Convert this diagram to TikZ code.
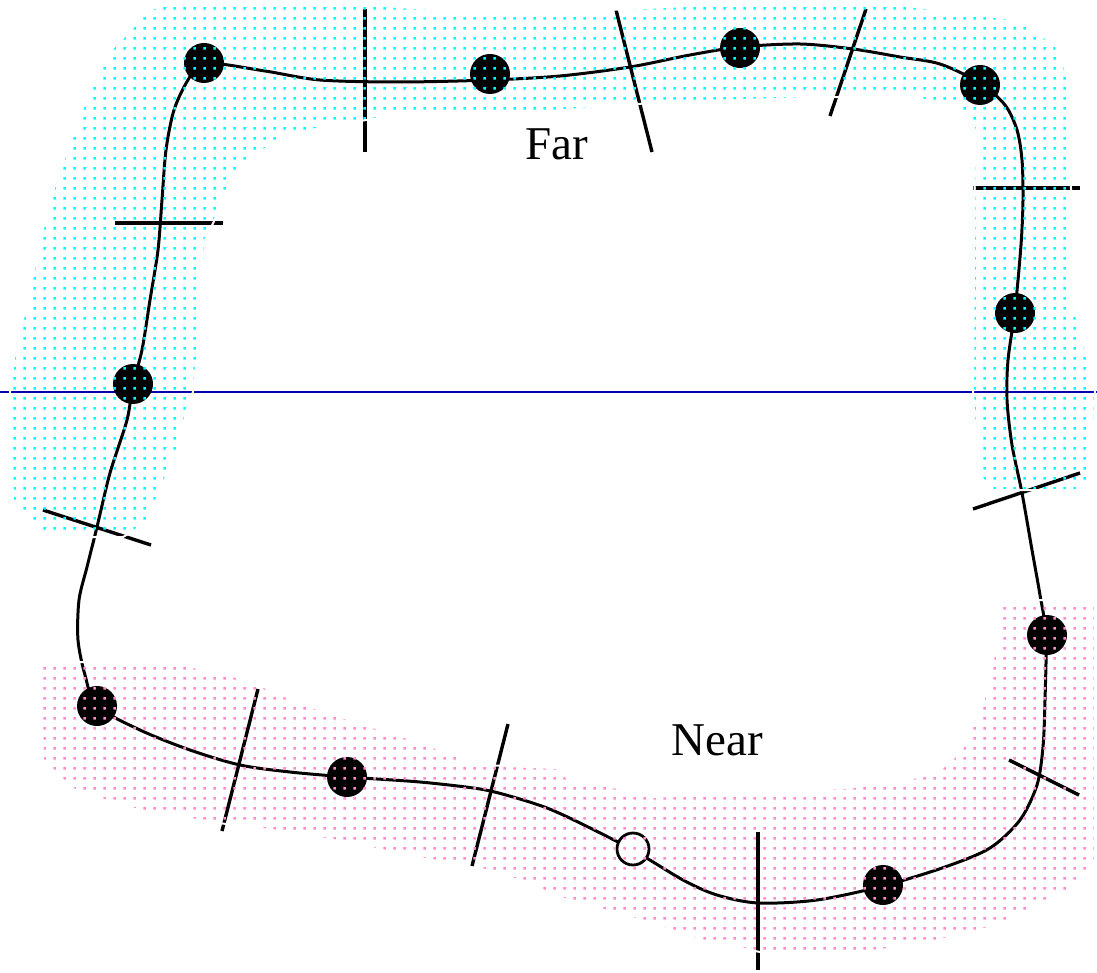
\documentclass[tikz,border=0pt]{standalone}
\usepackage{fontspec}
\setmainfont{Liberation Serif}
\usetikzlibrary{patterns.meta}

\tikzdeclarepattern{
  name=fleck,
  type=uncolored,
  bottom left={(0pt,0pt)},
  top right={(5pt,5pt)},
  tile size={(5pt,5pt)},
  code={\pgfpathrectangle{\pgfpoint{1.8pt}{1.8pt}}{\pgfpoint{1.4pt}{1.4pt}}\pgfusepath{fill}}
}
\definecolor{farcyan}{rgb}{0,1,1}
\definecolor{nearpink}{RGB}{255,140,205}
\definecolor{horizon}{RGB}{0,0,176}

\begin{document}
\begin{tikzpicture}[x=0.5pt,y=-0.5pt,
  blackdot/.style={circle,fill=black,inner sep=0pt,minimum size=20pt},
  opendot/.style={circle,draw=black,fill=white,line width=1.4pt,inner sep=0pt,minimum size=16pt},
  crossbar/.style={line width=1.7pt},
  zone/.style={draw=white,line width=1pt,pattern=fleck,pattern color=#1},
  label/.style={anchor=base,font=\fontsize{23.5}{28}\selectfont}]
\useasboundingbox (0,0) rectangle (1097,973);

% horizon
\draw[horizon,line width=0.8pt] (0,392) -- (1097,392);

% the closed curve
\draw[line width=1.5pt] plot[smooth cycle,tension=0.5] coordinates {
  (204,63) (265,71) (320,80) (400,82) (490,80) (560,76) (630,67) (690,55)
  (740,47) (800,44) (853,49) (900,57) (940,64) (980,83) (1005,105) (1017,130)
  (1022,160) (1023,200) (1021,245) (1015,310) (1008,360) (1007,400) (1012,445)
  (1022,493) (1032,550) (1040,595) (1046,635) (1045,700) (1043,747) (1037,785)
  (1020,820) (990,848) (945,867) (883,886) (817,900) (758,903) (717,895)
  (683,880) (633,850) (580,823) (547,808) (513,797) (480,789) (420,782)
  (347,777) (290,772) (240,765) (190,750) (140,730) (97,706) (85,675)
  (78,640) (79,600) (87,567) (97,527) (110,473) (127,420) (133,384)
  (142,350) (150,300) (158,250) (162,200) (166,150) (174,110) (188,80)};

% cuts across the curve
\draw[crossbar] (365,9) -- (365,152);
\draw[crossbar] (616,10) -- (652,152);
\draw[crossbar] (866,9) -- (830,116);
\draw[crossbar] (973,188) -- (1080,188);
\draw[crossbar] (115,223) -- (223,223);
\draw[crossbar] (43,510) -- (151,545);
\draw[crossbar] (973,509) -- (1080,473);
\draw[crossbar] (1009,760) -- (1079,795);
\draw[crossbar] (258,689) -- (222,831);
\draw[crossbar] (508,724) -- (472,866);
\draw[crossbar] (758,832) -- (758,970);

% points on the curve
\node[blackdot] (p1) at (204,63) {};
\node[blackdot] (p2) at (490,74) {};
\node[blackdot] (p3) at (740,48) {};
\node[blackdot] (p4) at (980,85) {};
\node[blackdot] (p5) at (1015,313) {};
\node[blackdot] (p6) at (133,384) {};
\node[blackdot] (p7) at (1047,635) {};
\node[blackdot] (p8) at (97,706) {};
\node[blackdot] (p9) at (347,777) {};
\node[blackdot] (p10) at (883,885) {};
\node[opendot] (q1) at (633,849) {};

% far zone
\path[zone=farcyan] (148,10) -- (180,0) -- (280,0) -- (450,10) -- (610,10)
  -- (800,0) -- (900,5) -- (1020,20) -- (1055,45) -- (1070,80) -- (1072,300)
  -- (1085,350) -- (1095,392) -- (1093,480) -- (1080,490) -- (990,490)
  -- (977,470) -- (973,392) -- (975,130) -- (968,115) -- (950,105) -- (900,95)
  -- (650,103) -- (530,113) -- (400,115) -- (333,125) -- (290,135) -- (252,156)
  -- (233,176) -- (217,215) -- (205,240) -- (203,308) -- (193,392) -- (188,402)
  -- (180,445) -- (158,495) -- (147,523) -- (123,537) -- (43,537) -- (13,503)
  -- (10,392) -- (15,350) -- (28,300) -- (38,250) -- (50,200) -- (67,150)
  -- (77,125) -- (88,93) -- (108,53) -- (128,33) -- cycle;

% near zone
\path[zone=nearpink] (40,662) -- (165,662) -- (220,672) -- (255,683) -- (300,703)
  -- (335,715) -- (420,742) -- (480,765) -- (557,768) -- (567,778) -- (618,788)
  -- (650,797) -- (843,788) -- (900,782) -- (940,770) -- (962,750) -- (967,730)
  -- (977,718) -- (987,690) -- (997,640) -- (997,600) -- (1095,600) -- (1095,860)
  -- (1070,890) -- (1000,925) -- (920,945) -- (840,955) -- (760,952) -- (700,940)
  -- (640,920) -- (567,900) -- (497,872) -- (420,858) -- (333,840) -- (270,830)
  -- (197,820) -- (138,810) -- (105,800) -- (75,790) -- (63,780) -- (53,770)
  -- (43,760) -- cycle;

\node[label] (far) at (557,160) {Far};
\node[label] (near) at (717,755) {Near};
\end{tikzpicture}
\end{document}
